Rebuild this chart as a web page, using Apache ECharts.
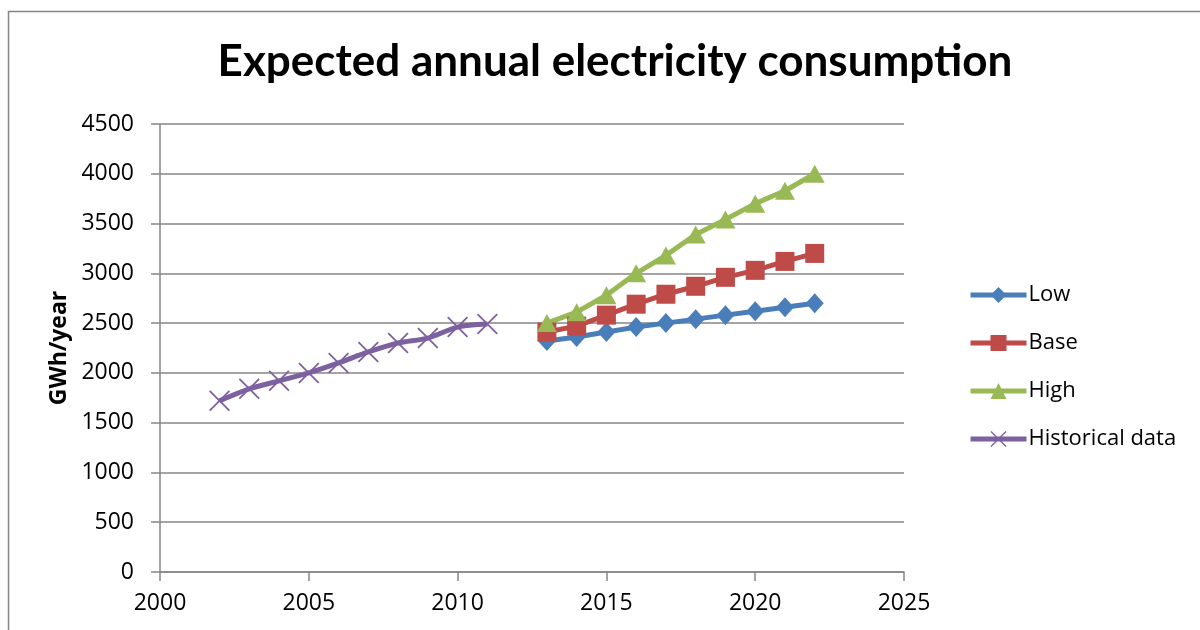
<!DOCTYPE html>
<html>
<head>
<meta charset="utf-8">
<title>Expected annual electricity consumption</title>
<script src="https://cdn.jsdelivr.net/npm/echarts@6/dist/echarts.min.js"></script>
<style>
  html, body { margin: 0; padding: 0; background: #ffffff; }
  #chart { width: 1200px; height: 630px; }
</style>
</head>
<body>
<div id="chart"></div>
<script>
// Historical consumption, GWh/year
const historicalYears = [2002, 2003, 2004, 2005, 2006, 2007, 2008, 2009, 2010, 2011];
const historicalValues = [1720, 1840, 1920, 2000, 2100, 2210, 2300, 2350, 2460, 2490];

// Forecast scenarios, GWh/year
const forecastYears = [2013, 2014, 2015, 2016, 2017, 2018, 2019, 2020, 2021, 2022];
const lowValues  = [2320, 2360, 2410, 2460, 2500, 2540, 2580, 2620, 2660, 2700];
const baseValues = [2410, 2470, 2580, 2690, 2790, 2870, 2960, 3030, 3120, 3200];
const highValues = [2500, 2610, 2780, 3000, 3180, 3390, 3540, 3700, 3830, 4000];

const seriesNames = ['Low', 'Base', 'High', 'Historical data'];
const seriesColors = ['#4A7EBB', '#BE4B48', '#98B954', '#7D60A0'];

const pairs = (xs, ys) => xs.map((x, i) => [x, ys[i]]);

// Thin "X" marker built from two filled diagonal bars
const crossSymbol = 'path://M0,0.6L0.6,0L10,9.4L9.4,10Z M9.4,0L10,0.6L0.6,10L0,9.4Z';

const fontFamily = '"Open Sans", "Liberation Sans", sans-serif';
const plainNumber = v => String(v);

const chart = echarts.init(document.getElementById('chart'), null, { renderer: 'canvas' });

chart.setOption({
  animation: false,
  backgroundColor: '#ffffff',
  title: {
    text: 'Expected annual electricity consumption',
    left: 610,
    top: 35,
    textAlign: 'center',
    textStyle: { fontFamily: 'Lato, "Open Sans", sans-serif', fontWeight: 'bold', fontSize: 44, color: '#000000' }
  },
  graphic: [{
    type: 'rect',
    silent: true,
    shape: { x: 8.5, y: 11.5, width: 1300, height: 700 },
    style: { fill: 'none', stroke: '#868686', lineWidth: 1.5 }
  }],
  legend: {
    orient: 'vertical',
    left: 963,
    top: 279,
    itemWidth: 56,
    itemHeight: 20,
    itemGap: 26,
    data: seriesNames,
    lineStyle: { width: 5 },
    textStyle: { fontFamily: fontFamily, fontSize: 22, color: '#000000', padding: [0, 0, 0, -3] }
  },
  grid: { left: 160, right: 296, top: 124, bottom: 58 },
  xAxis: {
    type: 'value',
    min: 2000,
    max: 2025,
    interval: 5,
    axisLine: { show: true, lineStyle: { color: '#868686', width: 1.5 } },
    axisTick: { show: true, inside: false, length: 9, lineStyle: { color: '#868686', width: 1.5 } },
    splitLine: { show: false },
    axisLabel: { fontFamily: fontFamily, fontSize: 23, color: '#000000', margin: 20, formatter: plainNumber }
  },
  yAxis: {
    type: 'value',
    min: 0,
    max: 4500,
    interval: 500,
    name: 'GWh/year',
    nameLocation: 'middle',
    nameRotate: 90,
    nameGap: 89,
    nameTextStyle: { fontFamily: fontFamily, fontWeight: 'bold', fontSize: 23, color: '#000000' },
    axisLine: { show: true, lineStyle: { color: '#868686', width: 1.5 } },
    axisTick: { show: true, inside: false, length: 9, lineStyle: { color: '#868686', width: 1.5 } },
    splitLine: { show: true, lineStyle: { color: '#868686', width: 1.5 } },
    axisLabel: { fontFamily: fontFamily, fontSize: 23, color: '#000000', margin: 26, formatter: plainNumber }
  },
  series: [
    {
      name: seriesNames[0],
      type: 'line',
      data: pairs(forecastYears, lowValues),
      symbol: 'diamond',
      symbolSize: [18, 20],
      color: seriesColors[0],
      lineStyle: { width: 5, color: seriesColors[0] },
      itemStyle: { color: seriesColors[0] }
    },
    {
      name: seriesNames[1],
      type: 'line',
      data: pairs(forecastYears, baseValues),
      symbol: 'rect',
      symbolSize: 19,
      color: seriesColors[1],
      lineStyle: { width: 5, color: seriesColors[1] },
      itemStyle: { color: seriesColors[1] }
    },
    {
      name: seriesNames[2],
      type: 'line',
      data: pairs(forecastYears, highValues),
      symbol: 'triangle',
      symbolSize: [20, 18],
      color: seriesColors[2],
      lineStyle: { width: 5, color: seriesColors[2] },
      itemStyle: { color: seriesColors[2] }
    },
    {
      name: seriesNames[3],
      type: 'line',
      data: pairs(historicalYears, historicalValues),
      smooth: 0.3,
      symbol: crossSymbol,
      symbolSize: 21,
      color: seriesColors[3],
      lineStyle: { width: 5, color: seriesColors[3] },
      itemStyle: { color: seriesColors[3] }
    }
  ]
});
</script>
</body>
</html>
